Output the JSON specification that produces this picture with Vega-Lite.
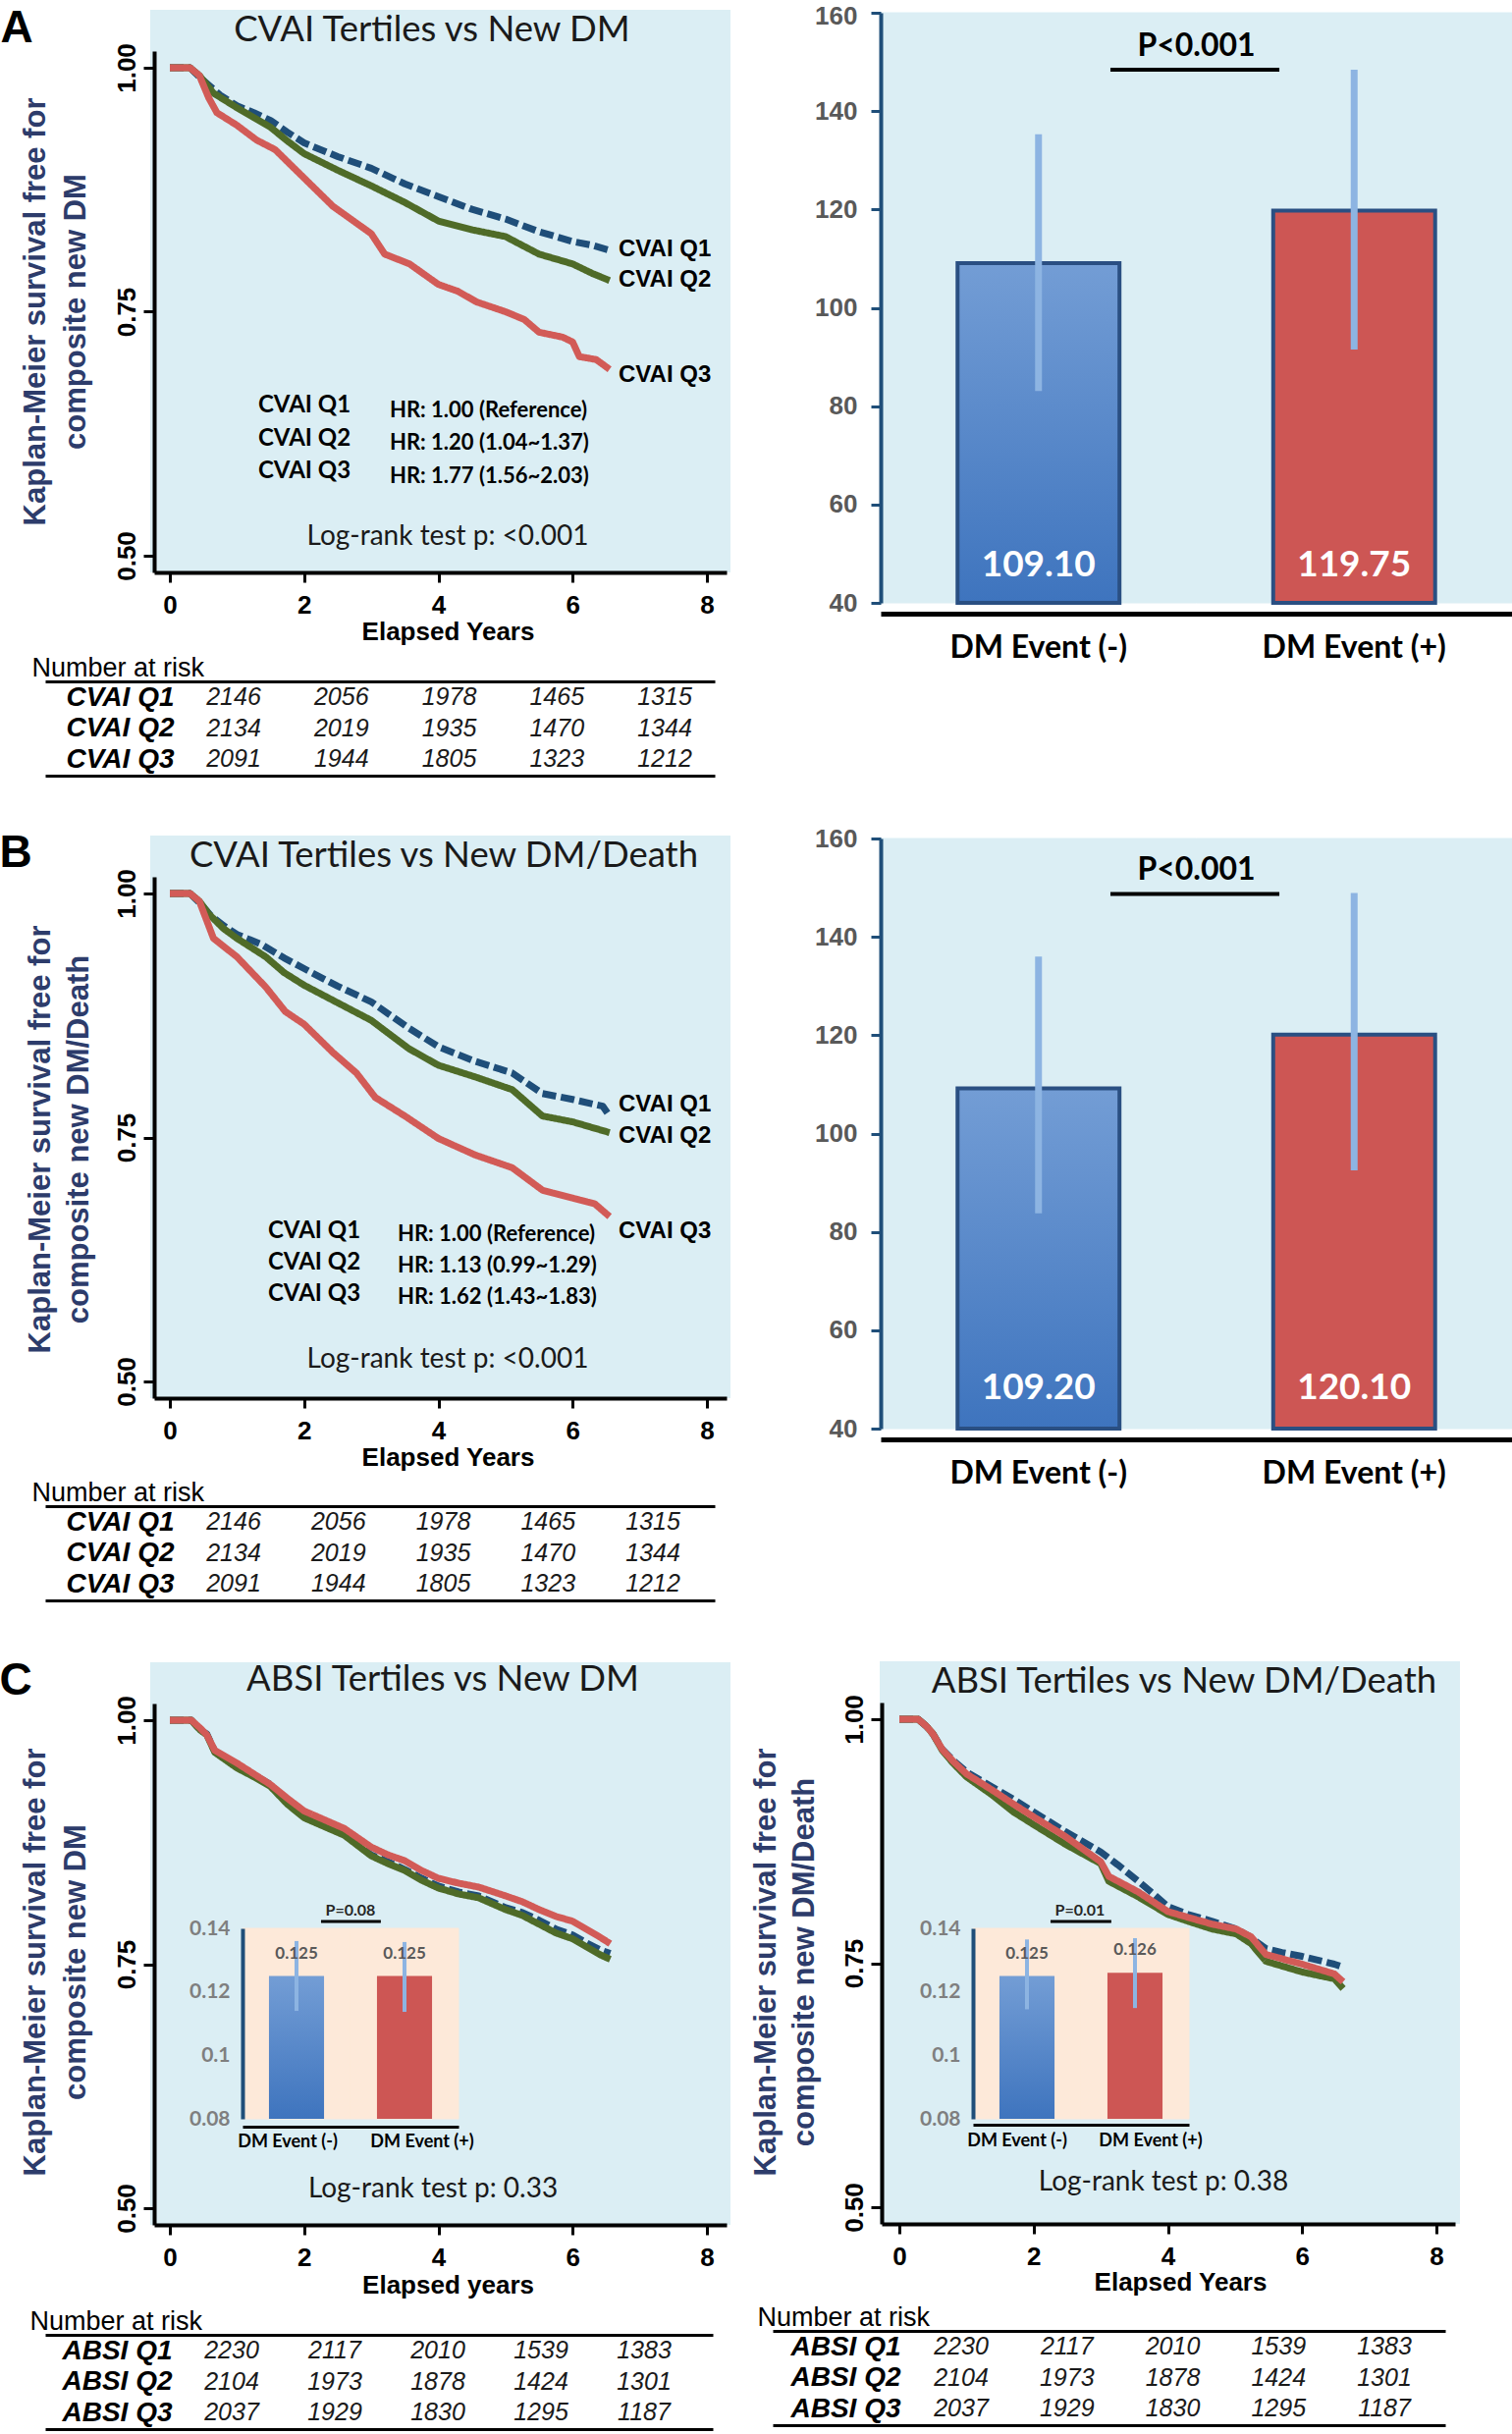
{
"$schema": "https://vega.github.io/schema/vega-lite/v6.json",
"width": 1540, "height": 2479, "autosize": {"type": "none"}, "padding": 0, "background": "white",
"config": {"view": {"stroke": null}, "axis": {"labelFlush": false, "labelOverlap": false, "labelBound": false, "grid": false, "zindex": 1, "labelLimit": 0}},
"datasets": {
"kmA": [
{"g":"Q1","t":0,"s":1},{"g":"Q1","t":0.3,"s":1},{"g":"Q1","t":0.45,"s":0.99},{"g":"Q1","t":0.6,"s":0.981},{"g":"Q1","t":0.75,"s":0.972},{"g":"Q1","t":1,"s":0.961},{"g":"Q1","t":1.25,"s":0.954},{"g":"Q1","t":1.5,"s":0.946},{"g":"Q1","t":1.75,"s":0.934},{"g":"Q1","t":2,"s":0.923},{"g":"Q1","t":2.5,"s":0.909},{"g":"Q1","t":3,"s":0.897},{"g":"Q1","t":3.5,"s":0.881},{"g":"Q1","t":4,"s":0.868},{"g":"Q1","t":4.5,"s":0.855},{"g":"Q1","t":5,"s":0.845},{"g":"Q1","t":5.5,"s":0.832},{"g":"Q1","t":6,"s":0.822},{"g":"Q1","t":6.3,"s":0.818},{"g":"Q1","t":6.55,"s":0.813},
{"g":"Q2","t":0,"s":1},{"g":"Q2","t":0.3,"s":1},{"g":"Q2","t":0.44,"s":0.992},{"g":"Q2","t":0.65,"s":0.974},{"g":"Q2","t":1,"s":0.959},{"g":"Q2","t":1.25,"s":0.949},{"g":"Q2","t":1.5,"s":0.939},{"g":"Q2","t":1.75,"s":0.925},{"g":"Q2","t":2,"s":0.912},{"g":"Q2","t":2.5,"s":0.895},{"g":"Q2","t":3,"s":0.879},{"g":"Q2","t":3.5,"s":0.862},{"g":"Q2","t":4,"s":0.843},{"g":"Q2","t":4.5,"s":0.834},{"g":"Q2","t":5,"s":0.827},{"g":"Q2","t":5.5,"s":0.809},{"g":"Q2","t":6,"s":0.799},{"g":"Q2","t":6.3,"s":0.789},{"g":"Q2","t":6.55,"s":0.782},
{"g":"Q3","t":0,"s":1},{"g":"Q3","t":0.3,"s":1},{"g":"Q3","t":0.44,"s":0.992},{"g":"Q3","t":0.58,"s":0.969},{"g":"Q3","t":0.7,"s":0.954},{"g":"Q3","t":1,"s":0.941},{"g":"Q3","t":1.29,"s":0.926},{"g":"Q3","t":1.57,"s":0.916},{"g":"Q3","t":2,"s":0.887},{"g":"Q3","t":2.43,"s":0.858},{"g":"Q3","t":3,"s":0.83},{"g":"Q3","t":3.2,"s":0.809},{"g":"Q3","t":3.57,"s":0.799},{"g":"Q3","t":4,"s":0.778},{"g":"Q3","t":4.29,"s":0.771},{"g":"Q3","t":4.57,"s":0.76},{"g":"Q3","t":5,"s":0.75},{"g":"Q3","t":5.28,"s":0.742},{"g":"Q3","t":5.5,"s":0.729},{"g":"Q3","t":5.85,"s":0.724},{"g":"Q3","t":6,"s":0.719},{"g":"Q3","t":6.1,"s":0.704},{"g":"Q3","t":6.35,"s":0.701},{"g":"Q3","t":6.55,"s":0.691}
],
"kmB": [
{"g":"Q1","t":0,"s":1},{"g":"Q1","t":0.3,"s":1},{"g":"Q1","t":0.45,"s":0.99},{"g":"Q1","t":0.6,"s":0.978},{"g":"Q1","t":0.8,"s":0.967},{"g":"Q1","t":1,"s":0.958},{"g":"Q1","t":1.36,"s":0.948},{"g":"Q1","t":1.7,"s":0.934},{"g":"Q1","t":2,"s":0.923},{"g":"Q1","t":2.5,"s":0.905},{"g":"Q1","t":3,"s":0.889},{"g":"Q1","t":3.56,"s":0.862},{"g":"Q1","t":4,"s":0.843},{"g":"Q1","t":4.55,"s":0.828},{"g":"Q1","t":5.1,"s":0.816},{"g":"Q1","t":5.55,"s":0.795},{"g":"Q1","t":6,"s":0.789},{"g":"Q1","t":6.45,"s":0.782},{"g":"Q1","t":6.55,"s":0.772},
{"g":"Q2","t":0,"s":1},{"g":"Q2","t":0.3,"s":1},{"g":"Q2","t":0.44,"s":0.992},{"g":"Q2","t":0.58,"s":0.979},{"g":"Q2","t":0.8,"s":0.964},{"g":"Q2","t":1,"s":0.954},{"g":"Q2","t":1.43,"s":0.935},{"g":"Q2","t":1.7,"s":0.919},{"g":"Q2","t":2,"s":0.906},{"g":"Q2","t":2.5,"s":0.888},{"g":"Q2","t":3,"s":0.87},{"g":"Q2","t":3.56,"s":0.841},{"g":"Q2","t":4,"s":0.824},{"g":"Q2","t":4.55,"s":0.812},{"g":"Q2","t":5.1,"s":0.799},{"g":"Q2","t":5.55,"s":0.772},{"g":"Q2","t":6,"s":0.766},{"g":"Q2","t":6.55,"s":0.755},
{"g":"Q3","t":0,"s":1},{"g":"Q3","t":0.3,"s":1},{"g":"Q3","t":0.44,"s":0.992},{"g":"Q3","t":0.65,"s":0.954},{"g":"Q3","t":1,"s":0.935},{"g":"Q3","t":1.43,"s":0.904},{"g":"Q3","t":1.72,"s":0.879},{"g":"Q3","t":2,"s":0.866},{"g":"Q3","t":2.43,"s":0.837},{"g":"Q3","t":2.78,"s":0.816},{"g":"Q3","t":3.06,"s":0.791},{"g":"Q3","t":3.5,"s":0.772},{"g":"Q3","t":4,"s":0.749},{"g":"Q3","t":4.55,"s":0.732},{"g":"Q3","t":5.1,"s":0.719},{"g":"Q3","t":5.55,"s":0.696},{"g":"Q3","t":6,"s":0.688},{"g":"Q3","t":6.33,"s":0.682},{"g":"Q3","t":6.55,"s":0.669}
],
"kmC1": [
{"g":"Q1","t":0,"s":1},{"g":"Q1","t":0.32,"s":1},{"g":"Q1","t":0.45,"s":0.99},{"g":"Q1","t":0.55,"s":0.986},{"g":"Q1","t":0.67,"s":0.968},{"g":"Q1","t":1,"s":0.953},{"g":"Q1","t":1.25,"s":0.944},{"g":"Q1","t":1.5,"s":0.934},{"g":"Q1","t":1.75,"s":0.915},{"g":"Q1","t":2,"s":0.901},{"g":"Q1","t":2.3,"s":0.892},{"g":"Q1","t":2.6,"s":0.883},{"g":"Q1","t":3,"s":0.862},{"g":"Q1","t":3.25,"s":0.855},{"g":"Q1","t":3.5,"s":0.847},{"g":"Q1","t":3.75,"s":0.838},{"g":"Q1","t":4,"s":0.83},{"g":"Q1","t":4.3,"s":0.824},{"g":"Q1","t":4.6,"s":0.82},{"g":"Q1","t":5,"s":0.808},{"g":"Q1","t":5.25,"s":0.803},{"g":"Q1","t":5.5,"s":0.795},{"g":"Q1","t":5.75,"s":0.786},{"g":"Q1","t":6,"s":0.78},{"g":"Q1","t":6.2,"s":0.772},{"g":"Q1","t":6.4,"s":0.765},{"g":"Q1","t":6.56,"s":0.761},
{"g":"Q2","t":0,"s":1},{"g":"Q2","t":0.32,"s":1},{"g":"Q2","t":0.45,"s":0.99},{"g":"Q2","t":0.55,"s":0.985},{"g":"Q2","t":0.67,"s":0.967},{"g":"Q2","t":1,"s":0.951},{"g":"Q2","t":1.25,"s":0.942},{"g":"Q2","t":1.5,"s":0.932},{"g":"Q2","t":1.75,"s":0.914},{"g":"Q2","t":2,"s":0.9},{"g":"Q2","t":2.3,"s":0.891},{"g":"Q2","t":2.6,"s":0.882},{"g":"Q2","t":3,"s":0.861},{"g":"Q2","t":3.25,"s":0.853},{"g":"Q2","t":3.5,"s":0.846},{"g":"Q2","t":3.75,"s":0.836},{"g":"Q2","t":4,"s":0.828},{"g":"Q2","t":4.3,"s":0.822},{"g":"Q2","t":4.6,"s":0.818},{"g":"Q2","t":5,"s":0.806},{"g":"Q2","t":5.25,"s":0.8},{"g":"Q2","t":5.5,"s":0.791},{"g":"Q2","t":5.75,"s":0.782},{"g":"Q2","t":6,"s":0.776},{"g":"Q2","t":6.2,"s":0.768},{"g":"Q2","t":6.4,"s":0.76},{"g":"Q2","t":6.56,"s":0.755},
{"g":"Q3","t":0,"s":1},{"g":"Q3","t":0.32,"s":1},{"g":"Q3","t":0.45,"s":0.992},{"g":"Q3","t":0.55,"s":0.985},{"g":"Q3","t":0.67,"s":0.969},{"g":"Q3","t":1,"s":0.956},{"g":"Q3","t":1.25,"s":0.945},{"g":"Q3","t":1.5,"s":0.934},{"g":"Q3","t":1.75,"s":0.92},{"g":"Q3","t":2,"s":0.907},{"g":"Q3","t":2.3,"s":0.898},{"g":"Q3","t":2.6,"s":0.889},{"g":"Q3","t":3,"s":0.87},{"g":"Q3","t":3.25,"s":0.862},{"g":"Q3","t":3.5,"s":0.856},{"g":"Q3","t":3.75,"s":0.846},{"g":"Q3","t":4,"s":0.838},{"g":"Q3","t":4.3,"s":0.833},{"g":"Q3","t":4.6,"s":0.829},{"g":"Q3","t":5,"s":0.82},{"g":"Q3","t":5.25,"s":0.814},{"g":"Q3","t":5.5,"s":0.806},{"g":"Q3","t":5.75,"s":0.799},{"g":"Q3","t":6,"s":0.794},{"g":"Q3","t":6.2,"s":0.786},{"g":"Q3","t":6.4,"s":0.778},{"g":"Q3","t":6.56,"s":0.771}
],
"kmC2": [
{"g":"Q1","t":0,"s":1},{"g":"Q1","t":0.28,"s":1},{"g":"Q1","t":0.4,"s":0.993},{"g":"Q1","t":0.5,"s":0.985},{"g":"Q1","t":0.64,"s":0.969},{"g":"Q1","t":0.8,"s":0.958},{"g":"Q1","t":1,"s":0.946},{"g":"Q1","t":1.37,"s":0.931},{"g":"Q1","t":1.7,"s":0.918},{"g":"Q1","t":2,"s":0.905},{"g":"Q1","t":2.47,"s":0.885},{"g":"Q1","t":3,"s":0.864},{"g":"Q1","t":3.25,"s":0.851},{"g":"Q1","t":3.56,"s":0.834},{"g":"Q1","t":3.8,"s":0.82},{"g":"Q1","t":4,"s":0.808},{"g":"Q1","t":4.3,"s":0.8},{"g":"Q1","t":4.66,"s":0.793},{"g":"Q1","t":5.02,"s":0.785},{"g":"Q1","t":5.2,"s":0.778},{"g":"Q1","t":5.46,"s":0.765},{"g":"Q1","t":5.7,"s":0.761},{"g":"Q1","t":6,"s":0.757},{"g":"Q1","t":6.48,"s":0.749},{"g":"Q1","t":6.61,"s":0.746},
{"g":"Q2","t":0,"s":1},{"g":"Q2","t":0.28,"s":1},{"g":"Q2","t":0.4,"s":0.993},{"g":"Q2","t":0.5,"s":0.985},{"g":"Q2","t":0.64,"s":0.968},{"g":"Q2","t":0.8,"s":0.955},{"g":"Q2","t":1,"s":0.941},{"g":"Q2","t":1.37,"s":0.923},{"g":"Q2","t":1.7,"s":0.905},{"g":"Q2","t":2,"s":0.892},{"g":"Q2","t":2.47,"s":0.872},{"g":"Q2","t":3,"s":0.852},{"g":"Q2","t":3.12,"s":0.834},{"g":"Q2","t":3.56,"s":0.818},{"g":"Q2","t":4,"s":0.8},{"g":"Q2","t":4.3,"s":0.793},{"g":"Q2","t":4.66,"s":0.785},{"g":"Q2","t":5.02,"s":0.78},{"g":"Q2","t":5.24,"s":0.77},{"g":"Q2","t":5.46,"s":0.752},{"g":"Q2","t":6,"s":0.741},{"g":"Q2","t":6.48,"s":0.734},{"g":"Q2","t":6.61,"s":0.724},
{"g":"Q3","t":0,"s":1},{"g":"Q3","t":0.28,"s":1},{"g":"Q3","t":0.4,"s":0.993},{"g":"Q3","t":0.5,"s":0.985},{"g":"Q3","t":0.64,"s":0.969},{"g":"Q3","t":0.8,"s":0.957},{"g":"Q3","t":1,"s":0.944},{"g":"Q3","t":1.37,"s":0.928},{"g":"Q3","t":1.7,"s":0.913},{"g":"Q3","t":2,"s":0.9},{"g":"Q3","t":2.47,"s":0.88},{"g":"Q3","t":3,"s":0.854},{"g":"Q3","t":3.12,"s":0.839},{"g":"Q3","t":3.56,"s":0.823},{"g":"Q3","t":4,"s":0.803},{"g":"Q3","t":4.3,"s":0.797},{"g":"Q3","t":4.66,"s":0.79},{"g":"Q3","t":5.02,"s":0.785},{"g":"Q3","t":5.24,"s":0.777},{"g":"Q3","t":5.46,"s":0.759},{"g":"Q3","t":6,"s":0.749},{"g":"Q3","t":6.48,"s":0.739},{"g":"Q3","t":6.61,"s":0.731}
],
"barA": [{"grp":"DM Event (-)","m":109.10,"lo":83.1,"hi":135.3},{"grp":"DM Event (+)","m":119.75,"lo":91.5,"hi":148.4}],
"barB": [{"grp":"DM Event (-)","m":109.20,"lo":83.8,"hi":136.0},{"grp":"DM Event (+)","m":120.10,"lo":92.5,"hi":148.9}],
"insC1": [{"grp":"DM Event (-)","m":0.125,"lo":0.114,"hi":0.136},{"grp":"DM Event (+)","m":0.125,"lo":0.1137,"hi":0.1357}],
"insC2": [{"grp":"DM Event (-)","m":0.125,"lo":0.1145,"hi":0.1365},{"grp":"DM Event (+)","m":0.126,"lo":0.1149,"hi":0.1369}],
"riskCVAI": [
{"grp":"CVAI Q1","col":1,"n":2146},{"grp":"CVAI Q1","col":2,"n":2056},{"grp":"CVAI Q1","col":3,"n":1978},{"grp":"CVAI Q1","col":4,"n":1465},{"grp":"CVAI Q1","col":5,"n":1315},
{"grp":"CVAI Q2","col":1,"n":2134},{"grp":"CVAI Q2","col":2,"n":2019},{"grp":"CVAI Q2","col":3,"n":1935},{"grp":"CVAI Q2","col":4,"n":1470},{"grp":"CVAI Q2","col":5,"n":1344},
{"grp":"CVAI Q3","col":1,"n":2091},{"grp":"CVAI Q3","col":2,"n":1944},{"grp":"CVAI Q3","col":3,"n":1805},{"grp":"CVAI Q3","col":4,"n":1323},{"grp":"CVAI Q3","col":5,"n":1212}],
"riskABSI": [
{"grp":"ABSI Q1","col":1,"n":2230},{"grp":"ABSI Q1","col":2,"n":2117},{"grp":"ABSI Q1","col":3,"n":2010},{"grp":"ABSI Q1","col":4,"n":1539},{"grp":"ABSI Q1","col":5,"n":1383},
{"grp":"ABSI Q2","col":1,"n":2104},{"grp":"ABSI Q2","col":2,"n":1973},{"grp":"ABSI Q2","col":3,"n":1878},{"grp":"ABSI Q2","col":4,"n":1424},{"grp":"ABSI Q2","col":5,"n":1301},
{"grp":"ABSI Q3","col":1,"n":2037},{"grp":"ABSI Q3","col":2,"n":1929},{"grp":"ABSI Q3","col":3,"n":1830},{"grp":"ABSI Q3","col":4,"n":1295},{"grp":"ABSI Q3","col":5,"n":1187}]
},
"resolve": {"scale": {"x": "independent", "y": "independent"}, "axis": {"x": "independent", "y": "independent"}},
"layer": [
{
"layer": [
{"data": {"values": [{}]}, "mark": {"type": "rect", "fill": "#dbeef4"},
 "encoding": {"x": {"datum": -0.2925, "type": "quantitative", "scale": {"domain": [-0.234, 8.2925], "range": [157, 740], "nice": false, "zero": false}}, "x2": {"datum": 8.351},
  "y": {"datum": 0.4829, "type": "quantitative", "scale": {"domain": [0.4829, 1.0171], "range": [583, 52], "nice": false, "zero": false}}, "y2": {"datum": 1.0594}}},
{"data": {"name": "kmA"}, "mark": {"type": "line", "strokeWidth": 7, "strokeJoin": "round"},
 "encoding": {
  "x": {"field": "t", "type": "quantitative", "scale": {"domain": [-0.234, 8.2925], "range": [157, 740], "nice": false, "zero": false},
   "axis": {"orient": "bottom", "offset": -1896, "zindex": 1, "values": [0, 2, 4, 6, 8], "format": "d", "domainColor": "#000", "domainWidth": 4, "tickColor": "#000", "tickWidth": 3, "tickSize": 10, "labelFont": "Liberation Sans", "labelFontWeight": "bold", "labelFontSize": 26, "labelColor": "#000", "labelPadding": 10, "title": "Elapsed Years", "titleX": 456, "titleY": 60, "titleAlign": "center", "titleBaseline": "middle", "titleFont": "Liberation Sans", "titleFontWeight": "bold", "titleFontSize": 26, "titleColor": "#000"}},
  "y": {"field": "s", "type": "quantitative", "scale": {"domain": [0.4829, 1.0171], "range": [583, 52], "nice": false, "zero": false},
   "axis": {"orient": "left", "offset": -157, "zindex": 1, "values": [0.5, 0.75, 1], "format": ".2f", "domainColor": "#000", "domainWidth": 4, "tickColor": "#000", "tickWidth": 3, "tickSize": 11, "labelAngle": 270, "labelAlign": "center", "labelBaseline": "bottom", "labelFont": "Liberation Sans", "labelFontWeight": "bold", "labelFontSize": 26, "labelColor": "#000", "labelPadding": 4, "title": ["Kaplan-Meier survival free for", "composite new DM"], "titleX": -121, "titleY": 317, "titleAngle": 270, "titleAlign": "center", "titleBaseline": "middle", "titleLineHeight": 41, "titleFont": "Liberation Sans", "titleFontWeight": "bold", "titleFontSize": 31, "titleColor": "#2d3c6b"}},
  "color": {"field": "g", "type": "nominal", "scale": {"domain": ["Q1", "Q2", "Q3"], "range": ["#1f4e79", "#4f6b28", "#d25b57"]}, "legend": null},
  "strokeDash": {"field": "g", "type": "nominal", "scale": {"domain": ["Q1", "Q2", "Q3"], "range": [[14, 5], [1, 0], [1, 0]]}, "legend": null}}},
{"data": {"values": [{}]}, "mark": {"type": "text", "text": "A", "font": "Liberation Sans", "fontWeight": "bold", "fontSize": 46, "color": "#000"},
 "encoding": {"x": {"datum": -2.2816, "type": "quantitative"}, "y": {"datum": 1.0402, "type": "quantitative"}}},
{"data": {"values": [{}]}, "mark": {"type": "text", "text": "CVAI Tertiles vs New DM", "font": "Lato", "fontSize": 36.5, "color": "#1a1a1a"},
 "encoding": {"x": {"datum": 3.905, "type": "quantitative"}, "y": {"datum": 1.0382, "type": "quantitative"}}},
{"data": {"values": [{}]}, "mark": {"type": "text", "text": "CVAI Q1", "font": "Liberation Sans", "fontWeight": "bold", "fontSize": 24, "align": "left", "color": "#000"},
 "encoding": {"x": {"datum": 6.684, "type": "quantitative"}, "y": {"datum": 0.8139, "type": "quantitative"}}},
{"data": {"values": [{}]}, "mark": {"type": "text", "text": "CVAI Q2", "font": "Liberation Sans", "fontWeight": "bold", "fontSize": 24, "align": "left", "color": "#000"},
 "encoding": {"x": {"datum": 6.684, "type": "quantitative"}, "y": {"datum": 0.7827, "type": "quantitative"}}},
{"data": {"values": [{}]}, "mark": {"type": "text", "text": "CVAI Q3", "font": "Liberation Sans", "fontWeight": "bold", "fontSize": 24, "align": "left", "color": "#000"},
 "encoding": {"x": {"datum": 6.684, "type": "quantitative"}, "y": {"datum": 0.6851, "type": "quantitative"}}},
{"data": {"values": [{}]}, "mark": {"type": "text", "text": ["CVAI Q1", "CVAI Q2", "CVAI Q3"], "font": "Lato", "fontWeight": "bold", "fontSize": 24, "align": "left", "baseline": "middle", "lineHeight": 33.5, "color": "#000"},
 "encoding": {"x": {"datum": 1.316, "type": "quantitative"}, "y": {"datum": 0.6539, "type": "quantitative"}}},
{"data": {"values": [{}]}, "mark": {"type": "text", "text": ["HR: 1.00 (Reference)", "HR: 1.20 (1.04~1.37)", "HR: 1.77 (1.56~2.03)"], "font": "Lato", "fontWeight": "bold", "fontSize": 22, "align": "left", "baseline": "middle", "lineHeight": 33.5, "color": "#000"},
 "encoding": {"x": {"datum": 3.276, "type": "quantitative"}, "y": {"datum": 0.6489, "type": "quantitative"}}},
{"data": {"values": [{}]}, "mark": {"type": "text", "text": "Log-rank test p: <0.001", "font": "Lato", "fontSize": 28, "color": "#1a1a1a"},
 "encoding": {"x": {"datum": 4.139, "type": "quantitative"}, "y": {"datum": 0.5191, "type": "quantitative"}}}
]
},
{
"layer": [
{"data": {"values": [{}]}, "mark": {"type": "rect", "fill": "#dbeef4"},
 "encoding": {"x": {"datum": -0.2925, "type": "quantitative", "scale": {"domain": [-0.234, 8.2925], "range": [157, 740], "nice": false, "zero": false}}, "x2": {"datum": 8.351},
  "y": {"datum": 0.4829, "type": "quantitative", "scale": {"domain": [0.4829, 1.0171], "range": [1424, 893], "nice": false, "zero": false}}, "y2": {"datum": 1.0594}}},
{"data": {"name": "kmB"}, "mark": {"type": "line", "strokeWidth": 7, "strokeJoin": "round"},
 "encoding": {
  "x": {"field": "t", "type": "quantitative", "scale": {"domain": [-0.234, 8.2925], "range": [157, 740], "nice": false, "zero": false},
   "axis": {"orient": "bottom", "offset": -1055, "zindex": 1, "values": [0, 2, 4, 6, 8], "format": "d", "domainColor": "#000", "domainWidth": 4, "tickColor": "#000", "tickWidth": 3, "tickSize": 10, "labelFont": "Liberation Sans", "labelFontWeight": "bold", "labelFontSize": 26, "labelColor": "#000", "labelPadding": 10, "title": "Elapsed Years", "titleX": 456, "titleY": 60, "titleAlign": "center", "titleBaseline": "middle", "titleFont": "Liberation Sans", "titleFontWeight": "bold", "titleFontSize": 26, "titleColor": "#000"}},
  "y": {"field": "s", "type": "quantitative", "scale": {"domain": [0.4829, 1.0171], "range": [1424, 893], "nice": false, "zero": false},
   "axis": {"orient": "left", "offset": -157, "zindex": 1, "values": [0.5, 0.75, 1], "format": ".2f", "domainColor": "#000", "domainWidth": 4, "tickColor": "#000", "tickWidth": 3, "tickSize": 11, "labelAngle": 270, "labelAlign": "center", "labelBaseline": "bottom", "labelFont": "Liberation Sans", "labelFontWeight": "bold", "labelFontSize": 26, "labelColor": "#000", "labelPadding": 4, "title": ["Kaplan-Meier survival free for", "composite new DM/Death"], "titleX": -116, "titleY": 1160, "titleAngle": 270, "titleAlign": "center", "titleBaseline": "middle", "titleLineHeight": 39, "titleFont": "Liberation Sans", "titleFontWeight": "bold", "titleFontSize": 31, "titleColor": "#2d3c6b"}},
  "color": {"field": "g", "type": "nominal", "scale": {"domain": ["Q1", "Q2", "Q3"], "range": ["#1f4e79", "#4f6b28", "#d25b57"]}, "legend": null},
  "strokeDash": {"field": "g", "type": "nominal", "scale": {"domain": ["Q1", "Q2", "Q3"], "range": [[14, 5], [1, 0], [1, 0]]}, "legend": null}}},
{"data": {"values": [{}]}, "mark": {"type": "text", "text": "B", "font": "Liberation Sans", "fontWeight": "bold", "fontSize": 46, "color": "#000"},
 "encoding": {"x": {"datum": -2.296, "type": "quantitative"}, "y": {"datum": 1.0412, "type": "quantitative"}}},
{"data": {"values": [{}]}, "mark": {"type": "text", "text": "CVAI Tertiles vs New DM/Death", "font": "Lato", "fontSize": 36.5, "color": "#1a1a1a"},
 "encoding": {"x": {"datum": 4.08, "type": "quantitative"}, "y": {"datum": 1.0382, "type": "quantitative"}}},
{"data": {"values": [{}]}, "mark": {"type": "text", "text": "CVAI Q1", "font": "Liberation Sans", "fontWeight": "bold", "fontSize": 24, "align": "left", "color": "#000"},
 "encoding": {"x": {"datum": 6.684, "type": "quantitative"}, "y": {"datum": 0.7842, "type": "quantitative"}}},
{"data": {"values": [{}]}, "mark": {"type": "text", "text": "CVAI Q2", "font": "Liberation Sans", "fontWeight": "bold", "fontSize": 24, "align": "left", "color": "#000"},
 "encoding": {"x": {"datum": 6.684, "type": "quantitative"}, "y": {"datum": 0.752, "type": "quantitative"}}},
{"data": {"values": [{}]}, "mark": {"type": "text", "text": "CVAI Q3", "font": "Liberation Sans", "fontWeight": "bold", "fontSize": 24, "align": "left", "color": "#000"},
 "encoding": {"x": {"datum": 6.684, "type": "quantitative"}, "y": {"datum": 0.6544, "type": "quantitative"}}},
{"data": {"values": [{}]}, "mark": {"type": "text", "text": ["CVAI Q1", "CVAI Q2", "CVAI Q3"], "font": "Lato", "fontWeight": "bold", "fontSize": 24, "align": "left", "baseline": "middle", "lineHeight": 32, "color": "#000"},
 "encoding": {"x": {"datum": 1.4625, "type": "quantitative"}, "y": {"datum": 0.6544, "type": "quantitative"}}},
{"data": {"values": [{}]}, "mark": {"type": "text", "text": ["HR: 1.00 (Reference)", "HR: 1.13 (0.99~1.29)", "HR: 1.62 (1.43~1.83)"], "font": "Lato", "fontWeight": "bold", "fontSize": 22, "align": "left", "baseline": "middle", "lineHeight": 32, "color": "#000"},
 "encoding": {"x": {"datum": 3.393, "type": "quantitative"}, "y": {"datum": 0.6514, "type": "quantitative"}}},
{"data": {"values": [{}]}, "mark": {"type": "text", "text": "Log-rank test p: <0.001", "font": "Lato", "fontSize": 28, "color": "#1a1a1a"},
 "encoding": {"x": {"datum": 4.139, "type": "quantitative"}, "y": {"datum": 0.5221, "type": "quantitative"}}}
]
},
{
"layer": [
{"data": {"values": [{}]}, "mark": {"type": "rect", "fill": "#dbeef4"},
 "encoding": {"x": {"datum": -0.2925, "type": "quantitative", "scale": {"domain": [-0.234, 8.2925], "range": [157, 740], "nice": false, "zero": false}}, "x2": {"datum": 8.351},
  "y": {"datum": 0.4829, "type": "quantitative", "scale": {"domain": [0.4829, 1.0171], "range": [2266, 1735], "nice": false, "zero": false}}, "y2": {"datum": 1.0594}}},
{"data": {"name": "kmC1"}, "mark": {"type": "line", "strokeWidth": 7, "strokeJoin": "round"},
 "encoding": {
  "x": {"field": "t", "type": "quantitative", "scale": {"domain": [-0.234, 8.2925], "range": [157, 740], "nice": false, "zero": false},
   "axis": {"orient": "bottom", "offset": -213, "zindex": 1, "values": [0, 2, 4, 6, 8], "format": "d", "domainColor": "#000", "domainWidth": 4, "tickColor": "#000", "tickWidth": 3, "tickSize": 10, "labelFont": "Liberation Sans", "labelFontWeight": "bold", "labelFontSize": 26, "labelColor": "#000", "labelPadding": 10, "title": "Elapsed years", "titleX": 456, "titleY": 61, "titleAlign": "center", "titleBaseline": "middle", "titleFont": "Liberation Sans", "titleFontWeight": "bold", "titleFontSize": 26, "titleColor": "#000"}},
  "y": {"field": "s", "type": "quantitative", "scale": {"domain": [0.4829, 1.0171], "range": [2266, 1735], "nice": false, "zero": false},
   "axis": {"orient": "left", "offset": -157, "zindex": 1, "values": [0.5, 0.75, 1], "format": ".2f", "domainColor": "#000", "domainWidth": 4, "tickColor": "#000", "tickWidth": 3, "tickSize": 11, "labelAngle": 270, "labelAlign": "center", "labelBaseline": "bottom", "labelFont": "Liberation Sans", "labelFontWeight": "bold", "labelFontSize": 26, "labelColor": "#000", "labelPadding": 4, "title": ["Kaplan-Meier survival free for", "composite new DM"], "titleX": -121, "titleY": 1998, "titleAngle": 270, "titleAlign": "center", "titleBaseline": "middle", "titleLineHeight": 41, "titleFont": "Liberation Sans", "titleFontWeight": "bold", "titleFontSize": 31, "titleColor": "#2d3c6b"}},
  "color": {"field": "g", "type": "nominal", "scale": {"domain": ["Q1", "Q2", "Q3"], "range": ["#1f4e79", "#4f6b28", "#d25b57"]}, "legend": null},
  "strokeDash": {"field": "g", "type": "nominal", "scale": {"domain": ["Q1", "Q2", "Q3"], "range": [[14, 5], [1, 0], [1, 0]]}, "legend": null}}},
{"data": {"values": [{}]}, "mark": {"type": "text", "text": "C", "font": "Liberation Sans", "fontWeight": "bold", "fontSize": 46, "color": "#000"},
 "encoding": {"x": {"datum": -2.296, "type": "quantitative"}, "y": {"datum": 1.0402, "type": "quantitative"}}},
{"data": {"values": [{}]}, "mark": {"type": "text", "text": "ABSI Tertiles vs New DM", "font": "Lato", "fontSize": 36.5, "color": "#1a1a1a"},
 "encoding": {"x": {"datum": 4.066, "type": "quantitative"}, "y": {"datum": 1.0412, "type": "quantitative"}}},
{"data": {"values": [{}]}, "mark": {"type": "text", "text": "Log-rank test p: 0.33", "font": "Lato", "fontSize": 28, "color": "#1a1a1a"},
 "encoding": {"x": {"datum": 3.92, "type": "quantitative"}, "y": {"datum": 0.5191, "type": "quantitative"}}}
]
},
{
"layer": [
{"data": {"values": [{}]}, "mark": {"type": "rect", "fill": "#dbeef4"},
 "encoding": {"x": {"datum": -0.2925, "type": "quantitative", "scale": {"domain": [-0.2633, 8.2779], "range": [898, 1482], "nice": false, "zero": false}}, "x2": {"datum": 8.351},
  "y": {"datum": 0.4829, "type": "quantitative", "scale": {"domain": [0.4829, 1.0171], "range": [2265, 1734], "nice": false, "zero": false}}, "y2": {"datum": 1.0594}}},
{"data": {"name": "kmC2"}, "mark": {"type": "line", "strokeWidth": 7, "strokeJoin": "round"},
 "encoding": {
  "x": {"field": "t", "type": "quantitative", "scale": {"domain": [-0.2633, 8.2779], "range": [898, 1482], "nice": false, "zero": false},
   "axis": {"orient": "bottom", "offset": -214, "zindex": 1, "values": [0, 2, 4, 6, 8], "format": "d", "domainColor": "#000", "domainWidth": 4, "tickColor": "#000", "tickWidth": 3, "tickSize": 10, "labelFont": "Liberation Sans", "labelFontWeight": "bold", "labelFontSize": 26, "labelColor": "#000", "labelPadding": 10, "title": "Elapsed Years", "titleX": 1202, "titleY": 59, "titleAlign": "center", "titleBaseline": "middle", "titleFont": "Liberation Sans", "titleFontWeight": "bold", "titleFontSize": 26, "titleColor": "#000"}},
  "y": {"field": "s", "type": "quantitative", "scale": {"domain": [0.4829, 1.0171], "range": [2265, 1734], "nice": false, "zero": false},
   "axis": {"orient": "left", "offset": -898, "zindex": 1, "values": [0.5, 0.75, 1], "format": ".2f", "domainColor": "#000", "domainWidth": 4, "tickColor": "#000", "tickWidth": 3, "tickSize": 11, "labelAngle": 270, "labelAlign": "center", "labelBaseline": "bottom", "labelFont": "Liberation Sans", "labelFontWeight": "bold", "labelFontSize": 26, "labelColor": "#000", "labelPadding": 4, "title": ["Kaplan-Meier survival free for", "composite new DM/Death"], "titleX": -118, "titleY": 1998, "titleAngle": 270, "titleAlign": "center", "titleBaseline": "middle", "titleLineHeight": 39, "titleFont": "Liberation Sans", "titleFontWeight": "bold", "titleFontSize": 31, "titleColor": "#2d3c6b"}},
  "color": {"field": "g", "type": "nominal", "scale": {"domain": ["Q1", "Q2", "Q3"], "range": ["#1f4e79", "#4f6b28", "#d25b57"]}, "legend": null},
  "strokeDash": {"field": "g", "type": "nominal", "scale": {"domain": ["Q1", "Q2", "Q3"], "range": [[14, 5], [1, 0], [1, 0]]}, "legend": null}}},
{"data": {"values": [{}]}, "mark": {"type": "text", "text": "ABSI Tertiles vs New DM/Death", "font": "Lato", "fontSize": 36.5, "color": "#1a1a1a"},
 "encoding": {"x": {"datum": 4.241, "type": "quantitative"}, "y": {"datum": 1.0382, "type": "quantitative"}}},
{"data": {"values": [{}]}, "mark": {"type": "text", "text": "Log-rank test p: 0.38", "font": "Lato", "fontSize": 28, "color": "#1a1a1a"},
 "encoding": {"x": {"datum": 3.934, "type": "quantitative"}, "y": {"datum": 0.5247, "type": "quantitative"}}}
]
},
{
"data": {"name": "barA"},
"layer": [
{"mark": {"type": "bar", "fill": "#dbeef4", "stroke": "#dbeef4", "strokeWidth": 1, "width": {"band": 1.9493}},
 "encoding": {"x": {"field": "grp", "type": "nominal", "scale": {"type": "band", "domain": ["DM Event (-)", "DM Event (+)"], "range": [897, 1540], "paddingInner": 0.487, "paddingOuter": 0.2435},
   "axis": {"orient": "bottom", "offset": -1854, "zindex": 1, "domainColor": "#000", "domainWidth": 5, "ticks": false, "labelAngle": 0, "labelLimit": 0, "labelFont": "Lato", "labelFontWeight": "bold", "labelFontSize": 32, "labelColor": "#000", "labelPadding": 19, "title": null}},
  "y": {"datum": 160, "type": "quantitative", "scale": {"domain": [40, 160], "range": [614, 13], "nice": false, "zero": false},
   "axis": {"orient": "left", "offset": -897, "zindex": 1, "values": [40, 60, 80, 100, 120, 140, 160], "domainColor": "#1f4e79", "domainWidth": 4, "tickColor": "#1f4e79", "tickWidth": 3, "tickSize": 10, "labelFont": "Liberation Sans", "labelFontWeight": "bold", "labelFontSize": 26, "labelColor": "#595959", "labelPadding": 14, "labelOffset": {"condition": {"test": "datum.value == 160", "value": 3}, "value": 0}, "title": null}},
  "y2": {"datum": 40}}},
{"transform": [{"filter": "datum.grp == 'DM Event (-)'"}],
 "mark": {"type": "bar", "fill": {"gradient": "linear", "x1": 0, "y1": 0, "x2": 0, "y2": 1, "stops": [{"offset": 0, "color": "#739dd5"}, {"offset": 1, "color": "#3e74be"}]}, "stroke": "#2a4f82", "strokeWidth": 4},
 "encoding": {"x": {"field": "grp", "type": "nominal", "scale": {"type": "band", "domain": ["DM Event (-)", "DM Event (+)"], "range": [897, 1540], "paddingInner": 0.487, "paddingOuter": 0.2435}},
  "y": {"field": "m", "type": "quantitative", "scale": {"domain": [40, 160], "range": [614, 13], "nice": false, "zero": false}}, "y2": {"datum": 40}}},
{"transform": [{"filter": "datum.grp == 'DM Event (+)'"}],
 "mark": {"type": "bar", "fill": "#cd5654", "stroke": "#2a4f82", "strokeWidth": 4},
 "encoding": {"x": {"field": "grp", "type": "nominal", "scale": {"type": "band", "domain": ["DM Event (-)", "DM Event (+)"], "range": [897, 1540], "paddingInner": 0.487, "paddingOuter": 0.2435}},
  "y": {"field": "m", "type": "quantitative", "scale": {"domain": [40, 160], "range": [614, 13], "nice": false, "zero": false}}, "y2": {"datum": 40}}},
{"mark": {"type": "rule", "color": "#8db4e2", "strokeWidth": 7},
 "encoding": {"x": {"field": "grp", "type": "nominal", "scale": {"type": "band", "domain": ["DM Event (-)", "DM Event (+)"], "range": [897, 1540], "paddingInner": 0.487, "paddingOuter": 0.2435}},
  "y": {"field": "lo", "type": "quantitative", "scale": {"domain": [40, 160], "range": [614, 13], "nice": false, "zero": false}}, "y2": {"field": "hi"}}},
{"mark": {"type": "text", "font": "Lato", "fontWeight": "bold", "fontSize": 37, "color": "#ffffff", "dy": -38},
 "encoding": {"x": {"field": "grp", "type": "nominal", "scale": {"type": "band", "domain": ["DM Event (-)", "DM Event (+)"], "range": [897, 1540], "paddingInner": 0.487, "paddingOuter": 0.2435}},
  "y": {"datum": 40, "type": "quantitative", "scale": {"domain": [40, 160], "range": [614, 13], "nice": false, "zero": false}},
  "text": {"field": "m", "type": "quantitative", "format": ".2f"}}},
{"data": {"values": [{}]}, "mark": {"type": "rule", "color": "#000", "strokeWidth": 4},
 "encoding": {"x": {"datum": "DM Event (-)", "type": "nominal", "bandPosition": 0.944, "scale": {"type": "band", "domain": ["DM Event (-)", "DM Event (+)"], "range": [897, 1540], "paddingInner": 0.487, "paddingOuter": 0.2435}},
  "x2": {"datum": "DM Event (+)", "bandPosition": 0.038},
  "y": {"datum": 148.4, "type": "quantitative", "scale": {"domain": [40, 160], "range": [614, 13], "nice": false, "zero": false}}}},
{"data": {"values": [{}]}, "mark": {"type": "text", "text": "P<0.001", "font": "Lato", "fontWeight": "bold", "fontSize": 32, "color": "#000"},
 "encoding": {"x": {"datum": "DM Event (-)", "type": "nominal", "bandPosition": 1.4747, "scale": {"type": "band", "domain": ["DM Event (-)", "DM Event (+)"], "range": [897, 1540], "paddingInner": 0.487, "paddingOuter": 0.2435}},
  "y": {"datum": 153.2, "type": "quantitative", "scale": {"domain": [40, 160], "range": [614, 13], "nice": false, "zero": false}}}}
]
},
{
"data": {"name": "barB"},
"layer": [
{"mark": {"type": "bar", "fill": "#dbeef4", "stroke": "#dbeef4", "strokeWidth": 1, "width": {"band": 1.9493}},
 "encoding": {"x": {"field": "grp", "type": "nominal", "scale": {"type": "band", "domain": ["DM Event (-)", "DM Event (+)"], "range": [897, 1540], "paddingInner": 0.487, "paddingOuter": 0.2435},
   "axis": {"orient": "bottom", "offset": -1013, "zindex": 1, "domainColor": "#000", "domainWidth": 5, "ticks": false, "labelAngle": 0, "labelLimit": 0, "labelFont": "Lato", "labelFontWeight": "bold", "labelFontSize": 32, "labelColor": "#000", "labelPadding": 19, "title": null}},
  "y": {"datum": 160, "type": "quantitative", "scale": {"domain": [40, 160], "range": [1455, 854], "nice": false, "zero": false},
   "axis": {"orient": "left", "offset": -897, "zindex": 1, "values": [40, 60, 80, 100, 120, 140, 160], "domainColor": "#1f4e79", "domainWidth": 4, "tickColor": "#1f4e79", "tickWidth": 3, "tickSize": 10, "labelFont": "Liberation Sans", "labelFontWeight": "bold", "labelFontSize": 26, "labelColor": "#595959", "labelPadding": 14, "title": null}},
  "y2": {"datum": 40}}},
{"transform": [{"filter": "datum.grp == 'DM Event (-)'"}],
 "mark": {"type": "bar", "fill": {"gradient": "linear", "x1": 0, "y1": 0, "x2": 0, "y2": 1, "stops": [{"offset": 0, "color": "#739dd5"}, {"offset": 1, "color": "#3e74be"}]}, "stroke": "#2a4f82", "strokeWidth": 4},
 "encoding": {"x": {"field": "grp", "type": "nominal", "scale": {"type": "band", "domain": ["DM Event (-)", "DM Event (+)"], "range": [897, 1540], "paddingInner": 0.487, "paddingOuter": 0.2435}},
  "y": {"field": "m", "type": "quantitative", "scale": {"domain": [40, 160], "range": [1455, 854], "nice": false, "zero": false}}, "y2": {"datum": 40}}},
{"transform": [{"filter": "datum.grp == 'DM Event (+)'"}],
 "mark": {"type": "bar", "fill": "#cd5654", "stroke": "#2a4f82", "strokeWidth": 4},
 "encoding": {"x": {"field": "grp", "type": "nominal", "scale": {"type": "band", "domain": ["DM Event (-)", "DM Event (+)"], "range": [897, 1540], "paddingInner": 0.487, "paddingOuter": 0.2435}},
  "y": {"field": "m", "type": "quantitative", "scale": {"domain": [40, 160], "range": [1455, 854], "nice": false, "zero": false}}, "y2": {"datum": 40}}},
{"mark": {"type": "rule", "color": "#8db4e2", "strokeWidth": 7},
 "encoding": {"x": {"field": "grp", "type": "nominal", "scale": {"type": "band", "domain": ["DM Event (-)", "DM Event (+)"], "range": [897, 1540], "paddingInner": 0.487, "paddingOuter": 0.2435}},
  "y": {"field": "lo", "type": "quantitative", "scale": {"domain": [40, 160], "range": [1455, 854], "nice": false, "zero": false}}, "y2": {"field": "hi"}}},
{"mark": {"type": "text", "font": "Lato", "fontWeight": "bold", "fontSize": 37, "color": "#ffffff", "dy": -41},
 "encoding": {"x": {"field": "grp", "type": "nominal", "scale": {"type": "band", "domain": ["DM Event (-)", "DM Event (+)"], "range": [897, 1540], "paddingInner": 0.487, "paddingOuter": 0.2435}},
  "y": {"datum": 40, "type": "quantitative", "scale": {"domain": [40, 160], "range": [1455, 854], "nice": false, "zero": false}},
  "text": {"field": "m", "type": "quantitative", "format": ".2f"}}},
{"data": {"values": [{}]}, "mark": {"type": "rule", "color": "#000", "strokeWidth": 4},
 "encoding": {"x": {"datum": "DM Event (-)", "type": "nominal", "bandPosition": 0.944, "scale": {"type": "band", "domain": ["DM Event (-)", "DM Event (+)"], "range": [897, 1540], "paddingInner": 0.487, "paddingOuter": 0.2435}},
  "x2": {"datum": "DM Event (+)", "bandPosition": 0.038},
  "y": {"datum": 148.7, "type": "quantitative", "scale": {"domain": [40, 160], "range": [1455, 854], "nice": false, "zero": false}}}},
{"data": {"values": [{}]}, "mark": {"type": "text", "text": "P<0.001", "font": "Lato", "fontWeight": "bold", "fontSize": 32, "color": "#000"},
 "encoding": {"x": {"datum": "DM Event (-)", "type": "nominal", "bandPosition": 1.4747, "scale": {"type": "band", "domain": ["DM Event (-)", "DM Event (+)"], "range": [897, 1540], "paddingInner": 0.487, "paddingOuter": 0.2435}},
  "y": {"datum": 153.6, "type": "quantitative", "scale": {"domain": [40, 160], "range": [1455, 854], "nice": false, "zero": false}}}}
]
},
{
"data": {"name": "insC1"},
"layer": [
{"mark": {"type": "bar", "fill": "#fde9d9", "stroke": "#fde9d9", "strokeWidth": 1, "width": {"band": 1.96078}},
 "encoding": {"x": {"field": "grp", "type": "nominal", "scale": {"type": "band", "domain": ["DM Event (-)", "DM Event (+)"], "range": [247, 467], "paddingInner": 0.49, "paddingOuter": 0.245},
   "axis": {"orient": "bottom", "offset": -313, "zindex": 1, "domainColor": "#000", "domainWidth": 3, "ticks": false, "labelAngle": 0, "labelLimit": 0, "labelOffset": {"condition": {"test": "datum.value == 'DM Event (-)'", "value": -9}, "value": 18}, "labelFont": "Lato", "labelFontWeight": "bold", "labelFontSize": 18, "labelColor": "#000", "labelPadding": 6, "title": null}},
  "y": {"datum": 0.14, "type": "quantitative", "scale": {"domain": [0.08, 0.14], "range": [2158, 1964], "nice": false, "zero": false},
   "axis": {"orient": "left", "offset": -247, "zindex": 1, "values": [0.08, 0.1, 0.12, 0.14], "format": "~g", "domainColor": "#1f4e79", "domainWidth": 4, "ticks": false, "tickSize": 0, "labelFont": "Lato", "labelFontWeight": "bold", "labelFontSize": 21, "labelColor": "#7f7f7f", "labelPadding": 13, "title": null}},
  "y2": {"datum": 0.08}}},
{"transform": [{"filter": "datum.grp == 'DM Event (-)'"}],
 "mark": {"type": "bar", "fill": {"gradient": "linear", "x1": 0, "y1": 0, "x2": 0, "y2": 1, "stops": [{"offset": 0, "color": "#739dd5"}, {"offset": 1, "color": "#3e74be"}]}},
 "encoding": {"x": {"field": "grp", "type": "nominal", "scale": {"type": "band", "domain": ["DM Event (-)", "DM Event (+)"], "range": [247, 467], "paddingInner": 0.49, "paddingOuter": 0.245}},
  "y": {"field": "m", "type": "quantitative", "scale": {"domain": [0.08, 0.14], "range": [2158, 1964], "nice": false, "zero": false}}, "y2": {"datum": 0.08}}},
{"transform": [{"filter": "datum.grp == 'DM Event (+)'"}],
 "mark": {"type": "bar", "fill": "#cd5654"},
 "encoding": {"x": {"field": "grp", "type": "nominal", "scale": {"type": "band", "domain": ["DM Event (-)", "DM Event (+)"], "range": [247, 467], "paddingInner": 0.49, "paddingOuter": 0.245}},
  "y": {"field": "m", "type": "quantitative", "scale": {"domain": [0.08, 0.14], "range": [2158, 1964], "nice": false, "zero": false}}, "y2": {"datum": 0.08}}},
{"mark": {"type": "rule", "color": "#8db4e2", "strokeWidth": 4},
 "encoding": {"x": {"field": "grp", "type": "nominal", "scale": {"type": "band", "domain": ["DM Event (-)", "DM Event (+)"], "range": [247, 467], "paddingInner": 0.49, "paddingOuter": 0.245}},
  "y": {"field": "lo", "type": "quantitative", "scale": {"domain": [0.08, 0.14], "range": [2158, 1964], "nice": false, "zero": false}}, "y2": {"field": "hi"}}},
{"mark": {"type": "text", "font": "Lato", "fontWeight": "bold", "fontSize": 17, "color": "#595959", "dy": -23},
 "encoding": {"x": {"field": "grp", "type": "nominal", "scale": {"type": "band", "domain": ["DM Event (-)", "DM Event (+)"], "range": [247, 467], "paddingInner": 0.49, "paddingOuter": 0.245}},
  "y": {"field": "m", "type": "quantitative", "scale": {"domain": [0.08, 0.14], "range": [2158, 1964], "nice": false, "zero": false}},
  "text": {"field": "m", "type": "quantitative", "format": ".3f"}}},
{"data": {"values": [{}]}, "mark": {"type": "rule", "color": "#000", "strokeWidth": 3},
 "encoding": {"x": {"datum": "DM Event (-)", "type": "nominal", "bandPosition": 0.945, "scale": {"type": "band", "domain": ["DM Event (-)", "DM Event (+)"], "range": [247, 467], "paddingInner": 0.49, "paddingOuter": 0.245}},
  "x2": {"datum": "DM Event (+)", "bandPosition": 0.07},
  "y": {"datum": 0.14217, "type": "quantitative", "scale": {"domain": [0.08, 0.14], "range": [2158, 1964], "nice": false, "zero": false}}}},
{"data": {"values": [{}]}, "mark": {"type": "text", "text": "P=0.08", "font": "Lato", "fontWeight": "bold", "fontSize": 16, "color": "#262626"},
 "encoding": {"x": {"datum": "DM Event (-)", "type": "nominal", "bandPosition": 1.48, "scale": {"type": "band", "domain": ["DM Event (-)", "DM Event (+)"], "range": [247, 467], "paddingInner": 0.49, "paddingOuter": 0.245}},
  "y": {"datum": 0.14557, "type": "quantitative", "scale": {"domain": [0.08, 0.14], "range": [2158, 1964], "nice": false, "zero": false}}}}
]
},
{
"data": {"name": "insC2"},
"layer": [
{"mark": {"type": "bar", "fill": "#fde9d9", "stroke": "#fde9d9", "strokeWidth": 1, "width": {"band": 1.96078}},
 "encoding": {"x": {"field": "grp", "type": "nominal", "scale": {"type": "band", "domain": ["DM Event (-)", "DM Event (+)"], "range": [991, 1211], "paddingInner": 0.49, "paddingOuter": 0.245},
   "axis": {"orient": "bottom", "offset": -315, "zindex": 1, "domainColor": "#000", "domainWidth": 3, "ticks": false, "labelAngle": 0, "labelLimit": 0, "labelOffset": {"condition": {"test": "datum.value == 'DM Event (-)'", "value": -10}, "value": 16}, "labelFont": "Lato", "labelFontWeight": "bold", "labelFontSize": 18, "labelColor": "#000", "labelPadding": 7, "title": null}},
  "y": {"datum": 0.14, "type": "quantitative", "scale": {"domain": [0.08, 0.14], "range": [2158, 1964], "nice": false, "zero": false},
   "axis": {"orient": "left", "offset": -991, "zindex": 1, "values": [0.08, 0.1, 0.12, 0.14], "format": "~g", "domainColor": "#1f4e79", "domainWidth": 4, "ticks": false, "tickSize": 0, "labelFont": "Lato", "labelFontWeight": "bold", "labelFontSize": 21, "labelColor": "#7f7f7f", "labelPadding": 13, "title": null}},
  "y2": {"datum": 0.08}}},
{"transform": [{"filter": "datum.grp == 'DM Event (-)'"}],
 "mark": {"type": "bar", "fill": {"gradient": "linear", "x1": 0, "y1": 0, "x2": 0, "y2": 1, "stops": [{"offset": 0, "color": "#739dd5"}, {"offset": 1, "color": "#3e74be"}]}},
 "encoding": {"x": {"field": "grp", "type": "nominal", "scale": {"type": "band", "domain": ["DM Event (-)", "DM Event (+)"], "range": [991, 1211], "paddingInner": 0.49, "paddingOuter": 0.245}},
  "y": {"field": "m", "type": "quantitative", "scale": {"domain": [0.08, 0.14], "range": [2158, 1964], "nice": false, "zero": false}}, "y2": {"datum": 0.08}}},
{"transform": [{"filter": "datum.grp == 'DM Event (+)'"}],
 "mark": {"type": "bar", "fill": "#cd5654"},
 "encoding": {"x": {"field": "grp", "type": "nominal", "scale": {"type": "band", "domain": ["DM Event (-)", "DM Event (+)"], "range": [991, 1211], "paddingInner": 0.49, "paddingOuter": 0.245}},
  "y": {"field": "m", "type": "quantitative", "scale": {"domain": [0.08, 0.14], "range": [2158, 1964], "nice": false, "zero": false}}, "y2": {"datum": 0.08}}},
{"mark": {"type": "rule", "color": "#8db4e2", "strokeWidth": 4},
 "encoding": {"x": {"field": "grp", "type": "nominal", "scale": {"type": "band", "domain": ["DM Event (-)", "DM Event (+)"], "range": [991, 1211], "paddingInner": 0.49, "paddingOuter": 0.245}},
  "y": {"field": "lo", "type": "quantitative", "scale": {"domain": [0.08, 0.14], "range": [2158, 1964], "nice": false, "zero": false}}, "y2": {"field": "hi"}}},
{"mark": {"type": "text", "font": "Lato", "fontWeight": "bold", "fontSize": 17, "color": "#595959", "dy": -23},
 "encoding": {"x": {"field": "grp", "type": "nominal", "scale": {"type": "band", "domain": ["DM Event (-)", "DM Event (+)"], "range": [991, 1211], "paddingInner": 0.49, "paddingOuter": 0.245}},
  "y": {"field": "m", "type": "quantitative", "scale": {"domain": [0.08, 0.14], "range": [2158, 1964], "nice": false, "zero": false}},
  "text": {"field": "m", "type": "quantitative", "format": ".3f"}}},
{"data": {"values": [{}]}, "mark": {"type": "rule", "color": "#000", "strokeWidth": 3},
 "encoding": {"x": {"datum": "DM Event (-)", "type": "nominal", "bandPosition": 0.927, "scale": {"type": "band", "domain": ["DM Event (-)", "DM Event (+)"], "range": [991, 1211], "paddingInner": 0.49, "paddingOuter": 0.245}},
  "x2": {"datum": "DM Event (+)", "bandPosition": 0.07},
  "y": {"datum": 0.14217, "type": "quantitative", "scale": {"domain": [0.08, 0.14], "range": [2158, 1964], "nice": false, "zero": false}}}},
{"data": {"values": [{}]}, "mark": {"type": "text", "text": "P=0.01", "font": "Lato", "fontWeight": "bold", "fontSize": 16, "color": "#262626"},
 "encoding": {"x": {"datum": "DM Event (-)", "type": "nominal", "bandPosition": 1.462, "scale": {"type": "band", "domain": ["DM Event (-)", "DM Event (+)"], "range": [991, 1211], "paddingInner": 0.49, "paddingOuter": 0.245}},
  "y": {"datum": 0.14557, "type": "quantitative", "scale": {"domain": [0.08, 0.14], "range": [2158, 1964], "nice": false, "zero": false}}}}
]
},
{
"data": {"name": "riskCVAI"},
"resolve": {"axis": {"x": "independent"}},
"layer": [
{"mark": {"type": "text", "font": "Liberation Sans", "fontStyle": "italic", "fontSize": 25, "color": "#1a1a1a"},
 "encoding": {
  "x": {"field": "col", "type": "quantitative", "scale": {"domain": [-0.7494, 5.4647], "range": [46, 728], "nice": false, "zero": false},
   "axis": {"orient": "top", "offset": -694, "zindex": 1, "domainColor": "#000", "domainWidth": 3, "ticks": false, "labels": false, "title": "Number at risk", "titleX": 32, "titleY": -6, "titleAlign": "left", "titleAngle": 0, "titleBaseline": "alphabetic", "titleFont": "Liberation Sans", "titleFontWeight": "normal", "titleFontSize": 27, "titleColor": "#000"}},
  "y": {"field": "grp", "type": "nominal", "scale": {"type": "point", "domain": ["CVAI Q1", "CVAI Q2", "CVAI Q3"], "range": [710, 773], "padding": 0},
   "axis": {"orient": "left", "offset": -177, "zindex": 1, "domain": false, "ticks": false, "tickSize": 0, "labelPadding": 0, "labelAlign": "right", "labelBaseline": "middle", "labelFont": "Liberation Sans", "labelFontWeight": "bold", "labelFontStyle": "italic", "labelFontSize": 28, "labelColor": "#000", "title": null}},
  "text": {"field": "n", "type": "quantitative", "format": "d"}}},
{"mark": {"type": "text", "opacity": 0},
 "encoding": {
  "x": {"field": "col", "type": "quantitative", "scale": {"domain": [-0.7494, 5.4647], "range": [46, 728], "nice": false, "zero": false},
   "axis": {"orient": "bottom", "offset": -1689, "zindex": 1, "domainColor": "#000", "domainWidth": 3, "ticks": false, "labels": false, "title": null}},
  "y": {"field": "grp", "type": "nominal", "scale": {"type": "point", "domain": ["CVAI Q1", "CVAI Q2", "CVAI Q3"], "range": [710, 773], "padding": 0}},
  "text": {"field": "n", "type": "quantitative", "format": "d"}}}
]
},
{
"data": {"name": "riskCVAI"},
"resolve": {"axis": {"x": "independent"}},
"layer": [
{"mark": {"type": "text", "font": "Liberation Sans", "fontStyle": "italic", "fontSize": 25, "color": "#1a1a1a"},
 "encoding": {
  "x": {"field": "col", "type": "quantitative", "scale": {"domain": [-0.7986, 5.5902], "range": [46, 728], "nice": false, "zero": false},
   "axis": {"orient": "top", "offset": -1534, "zindex": 1, "domainColor": "#000", "domainWidth": 3, "ticks": false, "labels": false, "title": "Number at risk", "titleX": 32, "titleY": -6, "titleAlign": "left", "titleAngle": 0, "titleBaseline": "alphabetic", "titleFont": "Liberation Sans", "titleFontWeight": "normal", "titleFontSize": 27, "titleColor": "#000"}},
  "y": {"field": "grp", "type": "nominal", "scale": {"type": "point", "domain": ["CVAI Q1", "CVAI Q2", "CVAI Q3"], "range": [1550, 1613], "padding": 0},
   "axis": {"orient": "left", "offset": -177, "zindex": 1, "domain": false, "ticks": false, "tickSize": 0, "labelPadding": 0, "labelAlign": "right", "labelBaseline": "middle", "labelFont": "Liberation Sans", "labelFontWeight": "bold", "labelFontStyle": "italic", "labelFontSize": 28, "labelColor": "#000", "title": null}},
  "text": {"field": "n", "type": "quantitative", "format": "d"}}},
{"mark": {"type": "text", "opacity": 0},
 "encoding": {
  "x": {"field": "col", "type": "quantitative", "scale": {"domain": [-0.7986, 5.5902], "range": [46, 728], "nice": false, "zero": false},
   "axis": {"orient": "bottom", "offset": -849, "zindex": 1, "domainColor": "#000", "domainWidth": 3, "ticks": false, "labels": false, "title": null}},
  "y": {"field": "grp", "type": "nominal", "scale": {"type": "point", "domain": ["CVAI Q1", "CVAI Q2", "CVAI Q3"], "range": [1550, 1613], "padding": 0}},
  "text": {"field": "n", "type": "quantitative", "format": "d"}}}
]
},
{
"data": {"name": "riskABSI"},
"resolve": {"axis": {"x": "independent"}},
"layer": [
{"mark": {"type": "text", "font": "Liberation Sans", "fontStyle": "italic", "fontSize": 25, "color": "#1a1a1a"},
 "encoding": {
  "x": {"field": "col", "type": "quantitative", "scale": {"domain": [-0.8095, 5.6667], "range": [46, 726], "nice": false, "zero": false},
   "axis": {"orient": "top", "offset": -2378, "zindex": 1, "domainColor": "#000", "domainWidth": 3, "ticks": false, "labels": false, "title": "Number at risk", "titleX": 30, "titleY": -6, "titleAlign": "left", "titleAngle": 0, "titleBaseline": "alphabetic", "titleFont": "Liberation Sans", "titleFontWeight": "normal", "titleFontSize": 27, "titleColor": "#000"}},
  "y": {"field": "grp", "type": "nominal", "scale": {"type": "point", "domain": ["ABSI Q1", "ABSI Q2", "ABSI Q3"], "range": [2394, 2457], "padding": 0},
   "axis": {"orient": "left", "offset": -175, "zindex": 1, "domain": false, "ticks": false, "tickSize": 0, "labelPadding": 0, "labelAlign": "right", "labelBaseline": "middle", "labelFont": "Liberation Sans", "labelFontWeight": "bold", "labelFontStyle": "italic", "labelFontSize": 28, "labelColor": "#000", "title": null}},
  "text": {"field": "n", "type": "quantitative", "format": "d"}}},
{"mark": {"type": "text", "opacity": 0},
 "encoding": {
  "x": {"field": "col", "type": "quantitative", "scale": {"domain": [-0.8095, 5.6667], "range": [46, 726], "nice": false, "zero": false},
   "axis": {"orient": "bottom", "offset": -5, "zindex": 1, "domainColor": "#000", "domainWidth": 3, "ticks": false, "labels": false, "title": null}},
  "y": {"field": "grp", "type": "nominal", "scale": {"type": "point", "domain": ["ABSI Q1", "ABSI Q2", "ABSI Q3"], "range": [2394, 2457], "padding": 0}},
  "text": {"field": "n", "type": "quantitative", "format": "d"}}}
]
},
{
"data": {"name": "riskABSI"},
"resolve": {"axis": {"x": "independent"}},
"layer": [
{"mark": {"type": "text", "font": "Liberation Sans", "fontStyle": "italic", "fontSize": 25, "color": "#1a1a1a"},
 "encoding": {
  "x": {"field": "col", "type": "quantitative", "scale": {"domain": [-0.7819, 5.5754], "range": [787, 1472], "nice": false, "zero": false},
   "axis": {"orient": "top", "offset": -2374, "zindex": 1, "domainColor": "#000", "domainWidth": 3, "ticks": false, "labels": false, "title": "Number at risk", "titleX": 771, "titleY": -6, "titleAlign": "left", "titleAngle": 0, "titleBaseline": "alphabetic", "titleFont": "Liberation Sans", "titleFontWeight": "normal", "titleFontSize": 27, "titleColor": "#000"}},
  "y": {"field": "grp", "type": "nominal", "scale": {"type": "point", "domain": ["ABSI Q1", "ABSI Q2", "ABSI Q3"], "range": [2390, 2453], "padding": 0}},
  "text": {"field": "n", "type": "quantitative", "format": "d"}}},
{"mark": {"type": "text", "opacity": 0},
 "encoding": {
  "x": {"field": "col", "type": "quantitative", "scale": {"domain": [-0.7819, 5.5754], "range": [787, 1472], "nice": false, "zero": false},
   "axis": {"orient": "bottom", "offset": -9, "zindex": 1, "domainColor": "#000", "domainWidth": 3, "ticks": false, "labels": false, "title": null}},
  "y": {"field": "grp", "type": "nominal", "scale": {"type": "point", "domain": ["ABSI Q1", "ABSI Q2", "ABSI Q3"], "range": [2390, 2453], "padding": 0},
   "axis": {"orient": "left", "offset": -917, "zindex": 1, "domain": false, "ticks": false, "tickSize": 0, "labelPadding": 0, "labelAlign": "right", "labelBaseline": "middle", "labelFont": "Liberation Sans", "labelFontWeight": "bold", "labelFontStyle": "italic", "labelFontSize": 28, "labelColor": "#000", "title": null}},
  "text": {"field": "n", "type": "quantitative", "format": "d"}}}
]
}
]
}
